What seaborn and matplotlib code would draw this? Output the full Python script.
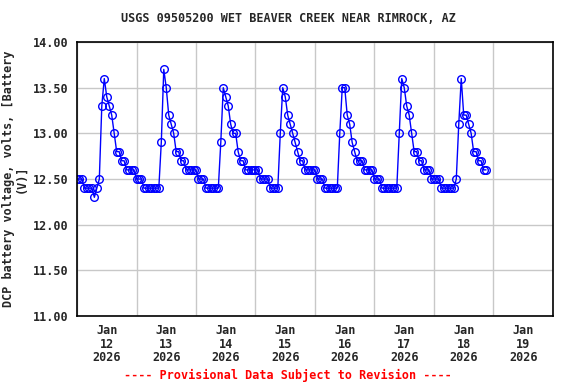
import numpy as np
import pandas as pd
import matplotlib
matplotlib.use("Agg")
import matplotlib.pyplot as plt
import matplotlib.dates as mdates
import seaborn as sns

# hourly battery voltage starting Jan 12 2026 00:00
start_time = "2026-01-12 00:00"
volts = [
    # Jan 12
    12.5, 12.5, 12.5, 12.4, 12.4, 12.4, 12.4, 12.3, 12.4, 12.5, 13.3, 13.6,
    13.4, 13.3, 13.2, 13.0, 12.8, 12.8, 12.7, 12.7, 12.6, 12.6, 12.6, 12.6,
    # Jan 13
    12.5, 12.5, 12.5, 12.4, 12.4, 12.4, 12.4, 12.4, 12.4, 12.4, 12.9, 13.7,
    13.5, 13.2, 13.1, 13.0, 12.8, 12.8, 12.7, 12.7, 12.6, 12.6, 12.6, 12.6,
    # Jan 14
    12.6, 12.5, 12.5, 12.5, 12.4, 12.4, 12.4, 12.4, 12.4, 12.4, 12.9, 13.5,
    13.4, 13.3, 13.1, 13.0, 13.0, 12.8, 12.7, 12.7, 12.6, 12.6, 12.6, 12.6,
    # Jan 15
    12.6, 12.6, 12.5, 12.5, 12.5, 12.5, 12.4, 12.4, 12.4, 12.4, 13.0, 13.5,
    13.4, 13.2, 13.1, 13.0, 12.9, 12.8, 12.7, 12.7, 12.6, 12.6, 12.6, 12.6,
    # Jan 16
    12.6, 12.5, 12.5, 12.5, 12.4, 12.4, 12.4, 12.4, 12.4, 12.4, 13.0, 13.5,
    13.5, 13.2, 13.1, 12.9, 12.8, 12.7, 12.7, 12.7, 12.6, 12.6, 12.6, 12.6,
    # Jan 17
    12.5, 12.5, 12.5, 12.4, 12.4, 12.4, 12.4, 12.4, 12.4, 12.4, 13.0, 13.6,
    13.5, 13.3, 13.2, 13.0, 12.8, 12.8, 12.7, 12.7, 12.6, 12.6, 12.6, 12.5,
    # Jan 18
    12.5, 12.5, 12.5, 12.4, 12.4, 12.4, 12.4, 12.4, 12.4, 12.5, 13.1, 13.6,
    13.2, 13.2, 13.1, 13.0, 12.8, 12.8, 12.7, 12.7, 12.6, 12.6,
]
day_labels = ["Jan\n12\n2026", "Jan\n13\n2026", "Jan\n14\n2026", "Jan\n15\n2026",
              "Jan\n16\n2026", "Jan\n17\n2026", "Jan\n18\n2026", "Jan\n19\n2026"]
y_ticks = [11.0, 11.5, 12.0, 12.5, 13.0, 13.5, 14.0]

times = pd.date_range(start_time, periods=len(volts), freq="h")
df = pd.DataFrame({"time": times, "volts": volts})

sns.set_style("white")
plt.rcParams["font.family"] = ["DejaVu Sans Mono"]
plt.rcParams["font.weight"] = "bold"

fig = plt.figure(figsize=(5.76, 3.84), dpi=100)
ax = fig.add_axes([0.1337, 0.177, 0.8263, 0.7136])

sns.lineplot(data=df, x="time", y="volts", ax=ax, color="blue", linewidth=1,
             marker="o", markersize=5.5, markerfacecolor="none",
             markeredgecolor="blue", markeredgewidth=1)

# x axis: gridlines at midnight, labels at noon
x0 = pd.Timestamp("2026-01-12")
x1 = pd.Timestamp("2026-01-20")
ax.set_xlim(x0, x1)
midnights = pd.date_range(x0, x1, freq="D")
noons = midnights[:-1] + pd.Timedelta(hours=12)
ax.set_xticks(midnights)
ax.set_xticklabels([""] * len(midnights))
ax.set_xticks(noons, minor=True)
ax.set_xticklabels(day_labels, minor=True, fontsize=8.5, fontweight="bold")
for t in ax.get_xticklabels(minor=True):
    t.set_linespacing(1.05)
ax.tick_params(axis="x", which="both", length=0, pad=6)

ax.set_ylim(11.0, 14.0)
ax.set_yticks(y_ticks)
ax.set_yticklabels([f"{v:.2f}" for v in y_ticks], fontsize=8.5, fontweight="bold")
ax.tick_params(axis="y", length=0, pad=6)

ax.grid(True, which="major", color="#c8c8c8", linewidth=1)
for s in ax.spines.values():
    s.set_color("black")
    s.set_linewidth(1.2)

ax.set_xlabel("")
ax.set_ylabel("DCP battery voltage, volts, [Battery\n(V)]", fontsize=8.5,
              fontweight="bold", linespacing=0.9, labelpad=4)

fig.text(0.5, 0.953, "USGS 09505200 WET BEAVER CREEK NEAR RIMROCK, AZ",
         ha="center", va="center", fontsize=8.5, fontweight="bold")
fig.text(0.5, 0.022, "---- Provisional Data Subject to Revision ----",
         ha="center", va="center", fontsize=8.5, fontweight="bold", color="red")

fig.savefig("out.png", dpi=100)
